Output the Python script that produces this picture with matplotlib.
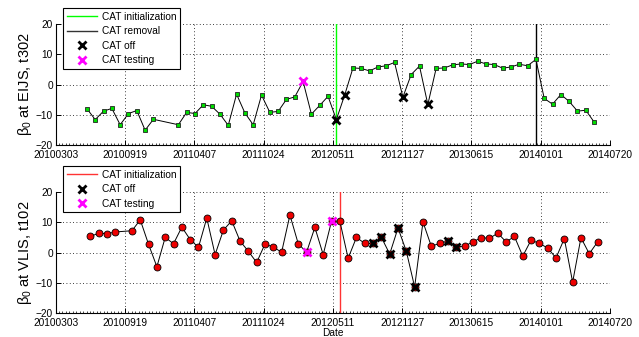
import numpy as np
import matplotlib
matplotlib.use("Agg")
import matplotlib.pyplot as plt
import matplotlib.dates as mdates
from matplotlib.lines import Line2D
from matplotlib.ticker import MultipleLocator

plt.rcParams['font.family'] = ['Liberation Sans', 'DejaVu Sans']
plt.rcParams['mathtext.fontset'] = 'custom'
plt.rcParams['mathtext.rm'] = 'Liberation Sans'
plt.rcParams['mathtext.it'] = 'Liberation Sans:italic'

base_date = np.datetime64('2010-03-03')

# ---- top panel (EIJS, t302): days since 2010-03-03 ----
top_days = [90, 114, 138, 162, 186, 210, 234, 258, 282,
            354, 378, 402, 426, 450, 474, 498, 522, 546, 570, 594, 618, 642,
            666, 690, 714, 738, 762, 786, 810, 834, 858, 882, 906, 930, 954,
            978, 1002, 1026, 1050, 1074, 1098, 1122, 1146, 1170, 1194, 1218,
            1242, 1266, 1290, 1314, 1338, 1362, 1386, 1410, 1434, 1458, 1482,
            1506, 1530, 1554]
top_vals = [-8.0, -11.6, -8.8, -7.9, -13.3, -9.6, -8.6, -15.1, -11.5,
            -13.3, -9.2, -9.6, -6.7, -7.2, -9.8, -13.5, -3.2, -9.4, -13.3,
            -3.5, -9.2, -8.9, -4.9, -4.1, 1.0, -9.8, -6.9,
            -3.9, -11.6, -3.5, 5.5, 5.3, 4.5, 5.8, 6.2, 7.3, -4.2, 3.3, 6.1,
            -6.6, 5.3, 5.5, 6.5, 6.8, 6.6, 7.7, 6.8, 6.6, 5.4, 5.8, 6.7, 6.2,
            8.3, -4.6, -6.5, -3.3, -5.6, -8.8, -8.5, -12.4]
top_off_days = [810, 834, 1002, 1074]
top_test_days = [714]
top_init_day = 810
top_removal_day = 1386

# ---- bottom panel (VLIS, t102) ----
bot_days = [100, 124, 148, 172, 220, 244, 268, 292, 316, 340, 364, 388, 412,
            436, 460, 484, 508, 532, 556, 580, 604, 628, 652, 676, 700, 724,
            748, 772, 796, 820, 844, 868, 892, 916, 940, 964, 988, 1012, 1036,
            1060, 1084, 1108, 1132, 1156, 1180, 1204, 1228, 1252, 1276, 1300,
            1324, 1348, 1372, 1396, 1420, 1444, 1468, 1492, 1516, 1540, 1564]
bot_vals = [5.3, 6.4, 6.2, 6.8, 7.2, 10.8, 2.7, -4.7, 5.0, 2.9, 8.4, 4.3, 1.7,
            11.4, -0.7, 7.4, 10.5, 3.8, 0.4, -3.3, 2.8, 1.8, 0.1, 12.4, 2.9,
            0.1, 8.3, -0.7, 10.3, 10.4, -1.9, 5.0, 3.0, 3.0, 5.0, -0.5, 8.1,
            0.4, -11.4, 10.1, 2.1, 3.0, 3.8, 1.9, 2.1, 3.5, 4.9, 4.7, 6.4, 3.5,
            5.3, -1.2, 4.1, 3.0, 1.5, -1.8, 4.6, -9.8, 4.9, -0.4, 3.5]
bot_off_days = [916, 940, 964, 988, 1012, 1036, 1132, 1156]
bot_test_days = [724, 796]
bot_init_day = 821

tick_days = [0, 200, 400, 600, 800, 1000, 1200, 1400, 1600]
yticks = [-20, -10, 0, 10, 20]


def to_dates(days):
    return base_date + np.array(days).astype('timedelta64[D]')


def pick(days, vals, sel):
    d = dict(zip(days, vals))
    return [d[s] for s in sel]


fig = plt.figure(figsize=(6.39, 3.37), dpi=100)
ax1 = fig.add_axes([0.0872, 0.5697, 0.8675, 0.359])
ax2 = fig.add_axes([0.0872, 0.0712, 0.8675, 0.359])


def style(ax, ylabel):
    ax.set_xlim(to_dates([0])[0], to_dates([1600])[0])
    ax.set_ylim(-20, 20)
    ax.set_xticks(to_dates(tick_days))
    ax.xaxis.set_major_formatter(mdates.DateFormatter('%Y%m%d'))
    ax.xaxis.set_minor_locator(MultipleLocator(10))
    ax.set_yticks(yticks)
    ax.set_yticklabels(['\u221220', '\u221210', '0', '10', '20'])
    ax.grid(True, which='major', color='black', linestyle=(0, (1, 3)),
            linewidth=0.6)
    ax.tick_params(which='major', direction='in', length=3.5, width=0.7,
                   labelsize=7.3)
    ax.tick_params(axis='y', which='major', pad=2)
    ax.tick_params(axis='x', which='major', pad=3.5)
    ax.tick_params(axis='x', which='minor', direction='in', length=1.5,
                   width=0.5)
    for s in ['top', 'right']:
        ax.spines[s].set_visible(False)
    for s in ['left', 'bottom']:
        ax.spines[s].set_linewidth(0.8)
    ax.set_ylabel(ylabel, fontsize=10.5, labelpad=1)


# top
ax1.axvline(to_dates([top_init_day])[0], color='#00ff00', lw=1.0, zorder=2)
ax1.axvline(to_dates([top_removal_day])[0], color='black', lw=1.0, zorder=2)
ax1.plot(to_dates(top_days), top_vals, color='black', lw=0.7, marker='s',
         markersize=3.0, markerfacecolor='#00dd00', markeredgecolor='#222222',
         markeredgewidth=0.6, zorder=3)
ax1.plot(to_dates(top_off_days), pick(top_days, top_vals, top_off_days),
         linestyle='none', marker='x', markersize=6, markeredgewidth=2,
         color='black', zorder=4)
ax1.plot(to_dates(top_test_days), pick(top_days, top_vals, top_test_days),
         linestyle='none', marker='x', markersize=6, markeredgewidth=2,
         color='#ff00ff', zorder=4)
style(ax1, r'$\mathrm{\beta_0}$ at EIJS, t302')

# bottom
ax2.axvline(to_dates([bot_init_day])[0], color='#ff3333', lw=1.0, zorder=2)
ax2.plot(to_dates(bot_days), bot_vals, color='black', lw=0.7, marker='o',
         markersize=5.0, markerfacecolor='#ee0000', markeredgecolor='black',
         markeredgewidth=0.6, zorder=3)
ax2.plot(to_dates(bot_off_days), pick(bot_days, bot_vals, bot_off_days),
         linestyle='none', marker='x', markersize=6, markeredgewidth=2,
         color='black', zorder=4)
ax2.plot(to_dates(bot_test_days), pick(bot_days, bot_vals, bot_test_days),
         linestyle='none', marker='x', markersize=6, markeredgewidth=2,
         color='#ff00ff', zorder=4)
style(ax2, r'$\mathrm{\beta_0}$ at VLIS, t102')
ax2.set_xlabel('Date', fontsize=7.3, labelpad=0)

# legends
h_init_g = Line2D([], [], color='#00ff00', lw=1.0)
h_rem = Line2D([], [], color='#333333', lw=1.0)
h_off = Line2D([], [], color='black', marker='x', linestyle='none',
               markersize=6, markeredgewidth=2)
h_test = Line2D([], [], color='#ff00ff', marker='x', linestyle='none',
                markersize=6, markeredgewidth=2)
h_init_r = Line2D([], [], color='#ff3333', lw=1.0)

leg_kw = dict(loc='upper left', bbox_transform=fig.transFigure,
              borderaxespad=0, fancybox=False, framealpha=1,
              edgecolor='black', fontsize=7.3, handlelength=3.0,
              handletextpad=0.5, labelspacing=0.45, borderpad=0.35)
l1 = ax1.legend([h_init_g, h_rem, h_off, h_test],
                ['CAT initialization', 'CAT removal', 'CAT off', 'CAT testing'],
                bbox_to_anchor=(0.0986, 0.976), **leg_kw)
l1.get_frame().set_linewidth(0.8)
l1.set_zorder(10)
l2 = ax2.legend([h_init_r, h_off, h_test],
                ['CAT initialization', 'CAT off', 'CAT testing'],
                bbox_to_anchor=(0.0986, 0.507), **leg_kw)
l2.get_frame().set_linewidth(0.8)
l2.set_zorder(10)

fig.savefig('out.png', dpi=100)
